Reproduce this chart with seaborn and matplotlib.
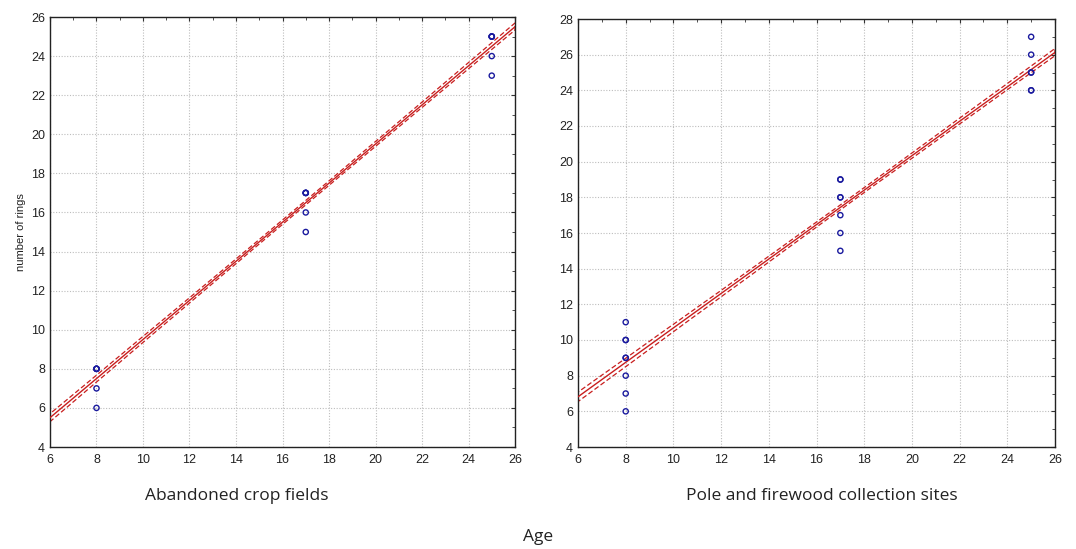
import numpy as np
import pandas as pd
import matplotlib
matplotlib.use("Agg")
import matplotlib.pyplot as plt
from matplotlib.ticker import MultipleLocator
import seaborn as sns

# Panel 1: Abandoned crop fields (overlapping observations repeated)
age_crop = [8, 8, 8, 8, 8, 8, 17, 17, 17, 17, 17, 17, 25, 25, 25, 25, 25, 25]
rings_crop = [6, 7, 8, 8, 8, 8, 15, 16, 17, 17, 17, 17, 23, 24, 25, 25, 25, 25]

# Panel 2: Pole and firewood collection sites
age_pole = [8, 8, 8, 8, 8, 8, 8, 8, 17, 17, 17, 17, 17, 17, 17,
            25, 25, 25, 25, 25, 25]
rings_pole = [6, 7, 8, 9, 9, 10, 10, 11, 15, 16, 17, 18, 18, 19, 19,
              24, 24, 25, 25, 26, 27]

titles = ["Abandoned crop fields", "Pole and firewood collection sites"]
x_ticks = list(range(6, 27, 2))
y_ticks_crop = list(range(4, 27, 2))
y_ticks_pole = list(range(4, 29, 2))

sns.set_style("white")
plt.rcParams['font.family'] = ['Liberation Sans', 'DejaVu Sans']

fig = plt.figure(figsize=(10.76, 5.49), dpi=100)
ax1 = fig.add_axes([50/1076, 1-447/549, 465/1076, 430/549])
ax2 = fig.add_axes([578/1076, 1-447/549, 477/1076, 428/549])

panels = [
    (ax1, age_crop, rings_crop, y_ticks_crop, 45),
    (ax2, age_pole, rings_pole, y_ticks_pole, 35),
]

for ax, xs, ys, yt, ci in panels:
    df = pd.DataFrame({"Age": xs, "rings": ys})
    ax.set_xlim(6, 26)
    ax.set_ylim(yt[0], yt[-1])
    sns.regplot(data=df, x="Age", y="rings", ax=ax, ci=ci, n_boot=2000, seed=3,
                truncate=False,
                scatter_kws=dict(marker="o", s=14, facecolors="none", alpha=1,
                                 edgecolors="#1a1a9e", linewidths=1.0, zorder=4),
                line_kws=dict(color="#c81e1e", lw=1.0, zorder=3))
    for coll in ax.collections:
        if isinstance(coll, matplotlib.collections.PolyCollection):
            coll.set_facecolor("none")
            coll.set_edgecolor("#c81e1e")
            coll.set_linestyle((0, (4, 2)))
            coll.set_linewidth(0.9)
            coll.set_alpha(1)
    ax.set_xlim(6, 26)
    ax.set_ylim(yt[0], yt[-1])
    ax.set_xticks(x_ticks)
    ax.set_yticks(yt)
    ax.xaxis.set_minor_locator(MultipleLocator(1))
    ax.yaxis.set_minor_locator(MultipleLocator(1))
    ax.tick_params(axis="both", which="major", labelsize=9, length=3,
                   direction="in", top=True, right=True, color="#333333",
                   labelcolor="#222222")
    ax.tick_params(axis="both", which="minor", length=2, direction="in",
                   top=True, right=True, color="#333333")
    ax.tick_params(axis="x", pad=5)
    ax.grid(True, which="major", color="#bdbdbd", linestyle=(0, (1, 1.5)), lw=0.8)
    for sp in ax.spines.values():
        sp.set_visible(True)
        sp.set_color("#222222")
        sp.set_linewidth(1.0)
    ax.set_xlabel("")
    ax.set_ylabel("")

ax1.set_ylabel("number of rings", fontsize=8, color="#222222")

fig.text(237/1076, 1-496/549, titles[0], ha="center", va="center",
         fontsize=12.5, color="#222222", family=["Open Sans", "DejaVu Sans"])
fig.text(822/1076, 1-496/549, titles[1], ha="center", va="center",
         fontsize=12.5, color="#222222", family=["Open Sans", "DejaVu Sans"])
fig.text(538/1076, 1-537/549, "Age", ha="center", va="center",
         fontsize=12.5, color="#222222", family=["Open Sans", "DejaVu Sans"])

fig.savefig("out.png", dpi=100)
